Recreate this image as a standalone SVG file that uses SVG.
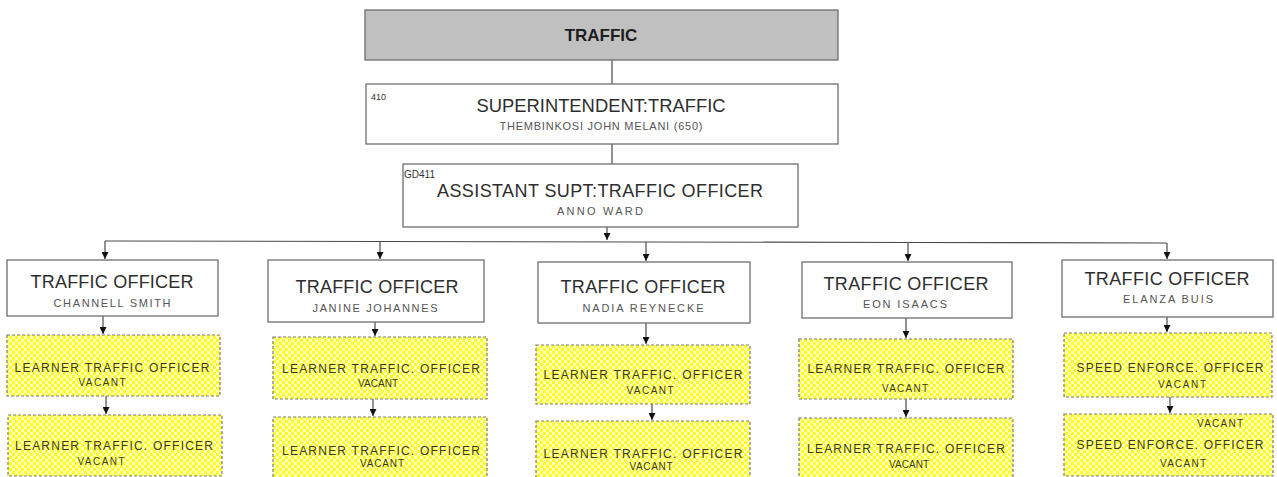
<svg xmlns="http://www.w3.org/2000/svg" width="1277" height="477" viewBox="0 0 1277 477">
  <style>
    .box { fill: #ffffff; stroke: #6e6e6e; stroke-width: 1.3; }
    .head { fill: #c0c0c0; stroke: #6e6e6e; stroke-width: 1.3; }
    .vac { fill: url(#checker); stroke: #7a7a7a; stroke-width: 1.2; stroke-dasharray: 3 2; }
    text { font-family: "Liberation Sans", Arial, sans-serif; text-anchor: middle; }
    .ttl { font-size: 18px; fill: #2e2e2e; }
    .nm { font-size: 11px; fill: #555555; }
    .code { font-size: 9px; fill: #333333; text-anchor: start; }
    .lt { font-size: 12px; fill: #3a3a1a; }
    .lv { font-size: 10px; fill: #3a3a1a; }
    .conn { stroke: #4a4a4a; stroke-width: 1.2; fill: none; }
  </style>
  <defs>
    <pattern id="checker" width="6" height="6" patternUnits="userSpaceOnUse">
      <rect width="6" height="6" fill="#ffff1a"/>
      <rect x="0" y="0" width="3" height="3" fill="#ffffc8"/>
      <rect x="3" y="3" width="3" height="3" fill="#ffffc8"/>
    </pattern>
    <marker id="arr" viewBox="0 0 8 8" refX="8" refY="4" markerWidth="7" markerHeight="7" markerUnits="userSpaceOnUse" orient="auto">
      <path d="M0,0 L8,4 L0,8 z" fill="#111111"/>
    </marker>
  </defs>

  <!-- connectors -->
  <g id="connectors">
    <line class="conn" x1="612" y1="60" x2="612" y2="84"/>
    <line class="conn" x1="612" y1="144" x2="612" y2="164"/>
    <line class="conn" x1="607" y1="227" x2="607" y2="240" marker-end="url(#arr)"/>
    <polyline class="conn" points="105,241 380,241.5 646,242 908,242.5 1167,243"/>
    <line class="conn" x1="105" y1="241" x2="105" y2="259" marker-end="url(#arr)"/>
    <line class="conn" x1="380" y1="241.5" x2="380" y2="259" marker-end="url(#arr)"/>
    <line class="conn" x1="646" y1="242" x2="646" y2="261" marker-end="url(#arr)"/>
    <line class="conn" x1="908" y1="242.5" x2="908" y2="261" marker-end="url(#arr)"/>
    <line class="conn" x1="1167" y1="243" x2="1167" y2="259" marker-end="url(#arr)"/>
    <!-- officer to learner -->
    <line class="conn" x1="103" y1="316" x2="103" y2="334" marker-end="url(#arr)"/>
    <line class="conn" x1="375" y1="322" x2="375" y2="336" marker-end="url(#arr)"/>
    <line class="conn" x1="646" y1="323" x2="646" y2="344" marker-end="url(#arr)"/>
    <line class="conn" x1="906" y1="318" x2="906" y2="338" marker-end="url(#arr)"/>
    <line class="conn" x1="1167" y1="317" x2="1167" y2="332" marker-end="url(#arr)"/>
    <!-- learner to learner -->
    <line class="conn" x1="106" y1="396" x2="106" y2="414" marker-end="url(#arr)"/>
    <line class="conn" x1="373" y1="399" x2="373" y2="416" marker-end="url(#arr)"/>
    <line class="conn" x1="652" y1="404" x2="652" y2="420" marker-end="url(#arr)"/>
    <line class="conn" x1="906" y1="399" x2="906" y2="417" marker-end="url(#arr)"/>
    <line class="conn" x1="1170" y1="397" x2="1170" y2="413" marker-end="url(#arr)"/>
  </g>

  <g id="traffic">
    <rect class="head" x="365" y="10" width="473" height="50"/>
    <text x="601" y="41" style="font-size:17px;font-weight:bold;fill:#1e1e1e">TRAFFIC</text>
  </g>

  <g id="superintendent">
    <rect class="box" x="366" y="84" width="472" height="60"/>
    <text class="code" x="371" y="100">410</text>
    <text class="ttl" x="601" y="112" textLength="249" lengthAdjust="spacingAndGlyphs">SUPERINTENDENT:TRAFFIC</text>
    <text class="nm" x="601" y="130" textLength="203" lengthAdjust="spacing">THEMBINKOSI  JOHN  MELANI  (650)</text>
  </g>

  <g id="assistant">
    <rect class="box" x="403" y="164" width="395" height="63"/>
    <text class="code" x="404" y="178" style="font-size:10px">GD411</text>
    <text class="ttl" x="600" y="197" textLength="326" lengthAdjust="spacing">ASSISTANT  SUPT:TRAFFIC  OFFICER</text>
    <text class="nm" x="600" y="215" textLength="86" lengthAdjust="spacing">ANNO  WARD</text>
  </g>

  <!-- traffic officers -->
  <g id="officer-smith">
    <rect class="box" x="7" y="260" width="211" height="56"/>
    <text class="ttl" x="112" y="288" textLength="163" lengthAdjust="spacing">TRAFFIC OFFICER</text>
    <text class="nm" x="112" y="307" textLength="117" lengthAdjust="spacing">CHANNELL  SMITH</text>
  </g>
  <g id="officer-johannes">
    <rect class="box" x="268" y="260" width="216" height="62"/>
    <text class="ttl" x="377" y="293" textLength="163" lengthAdjust="spacing">TRAFFIC OFFICER</text>
    <text class="nm" x="375" y="312" textLength="125" lengthAdjust="spacing">JANINE  JOHANNES</text>
  </g>
  <g id="officer-reynecke">
    <rect class="box" x="538" y="262" width="212" height="61"/>
    <text class="ttl" x="643" y="293" textLength="165" lengthAdjust="spacing">TRAFFIC OFFICER</text>
    <text class="nm" x="643" y="312" textLength="121" lengthAdjust="spacing">NADIA  REYNECKE</text>
  </g>
  <g id="officer-isaacs">
    <rect class="box" x="802" y="262" width="210" height="56"/>
    <text class="ttl" x="906" y="290" textLength="165" lengthAdjust="spacing">TRAFFIC OFFICER</text>
    <text class="nm" x="905" y="308" textLength="84" lengthAdjust="spacing">EON ISAACS</text>
  </g>
  <g id="officer-buis">
    <rect class="box" x="1062" y="260" width="211" height="57"/>
    <text class="ttl" x="1167" y="285" textLength="165" lengthAdjust="spacing">TRAFFIC OFFICER</text>
    <text class="nm" x="1168" y="303" textLength="90" lengthAdjust="spacing">ELANZA  BUIS</text>
  </g>

  <!-- vacant posts -->
  <g id="learner-1a">
    <rect class="vac" x="7" y="335" width="213" height="61"/>
    <text class="lt" x="112" y="372" textLength="195" lengthAdjust="spacing">LEARNER TRAFFIC OFFICER</text>
    <text class="lv" x="102" y="386" textLength="47" lengthAdjust="spacing">VACANT</text>
  </g>
  <g id="learner-1b">
    <rect class="vac" x="8" y="415" width="214" height="61"/>
    <text class="lt" x="114" y="450" textLength="198" lengthAdjust="spacing">LEARNER TRAFFIC. OFFICER</text>
    <text class="lv" x="101" y="465" textLength="47" lengthAdjust="spacing">VACANT</text>
  </g>
  <g id="learner-2a">
    <rect class="vac" x="273" y="337" width="214" height="62"/>
    <text class="lt" x="381" y="373" textLength="198" lengthAdjust="spacing">LEARNER TRAFFIC. OFFICER</text>
    <text class="lv" x="378" y="387" textLength="40" lengthAdjust="spacing">VACANT</text>
  </g>
  <g id="learner-2b">
    <rect class="vac" x="273" y="417" width="214" height="66"/>
    <text class="lt" x="381" y="455" textLength="198" lengthAdjust="spacing">LEARNER TRAFFIC. OFFICER</text>
    <text class="lv" x="382" y="467" textLength="44" lengthAdjust="spacing">VACANT</text>
  </g>
  <g id="learner-3a">
    <rect class="vac" x="536" y="345" width="214" height="59"/>
    <text class="lt" x="643" y="379" textLength="199" lengthAdjust="spacing">LEARNER TRAFFIC. OFFICER</text>
    <text class="lv" x="650" y="394" textLength="47" lengthAdjust="spacing">VACANT</text>
  </g>
  <g id="learner-3b">
    <rect class="vac" x="536" y="421" width="214" height="62"/>
    <text class="lt" x="643" y="458" textLength="199" lengthAdjust="spacing">LEARNER TRAFFIC. OFFICER</text>
    <text class="lv" x="651" y="470" textLength="43" lengthAdjust="spacing">VACANT</text>
  </g>
  <g id="learner-4a">
    <rect class="vac" x="799" y="339" width="214" height="60"/>
    <text class="lt" x="906" y="373" textLength="197" lengthAdjust="spacing">LEARNER TRAFFIC. OFFICER</text>
    <text class="lv" x="905" y="392" textLength="46" lengthAdjust="spacing">VACANT</text>
  </g>
  <g id="learner-4b">
    <rect class="vac" x="799" y="418" width="214" height="65"/>
    <text class="lt" x="906" y="453" textLength="198" lengthAdjust="spacing">LEARNER TRAFFIC. OFFICER</text>
    <text class="lv" x="909" y="468" textLength="40" lengthAdjust="spacing">VACANT</text>
  </g>
  <g id="speed-1">
    <rect class="vac" x="1064" y="333" width="208" height="64"/>
    <text class="lt" x="1170" y="372" textLength="187" lengthAdjust="spacing">SPEED ENFORCE. OFFICER</text>
    <text class="lv" x="1182" y="388" textLength="48" lengthAdjust="spacing">VACANT</text>
  </g>
  <g id="speed-2">
    <rect class="vac" x="1064" y="414" width="209" height="62"/>
    <text class="lv" x="1220" y="427" textLength="46" lengthAdjust="spacing">VACANT</text>
    <text class="lt" x="1170" y="449" textLength="187" lengthAdjust="spacing">SPEED ENFORCE. OFFICER</text>
    <text class="lv" x="1183" y="467" textLength="46" lengthAdjust="spacing">VACANT</text>
  </g>
</svg>
